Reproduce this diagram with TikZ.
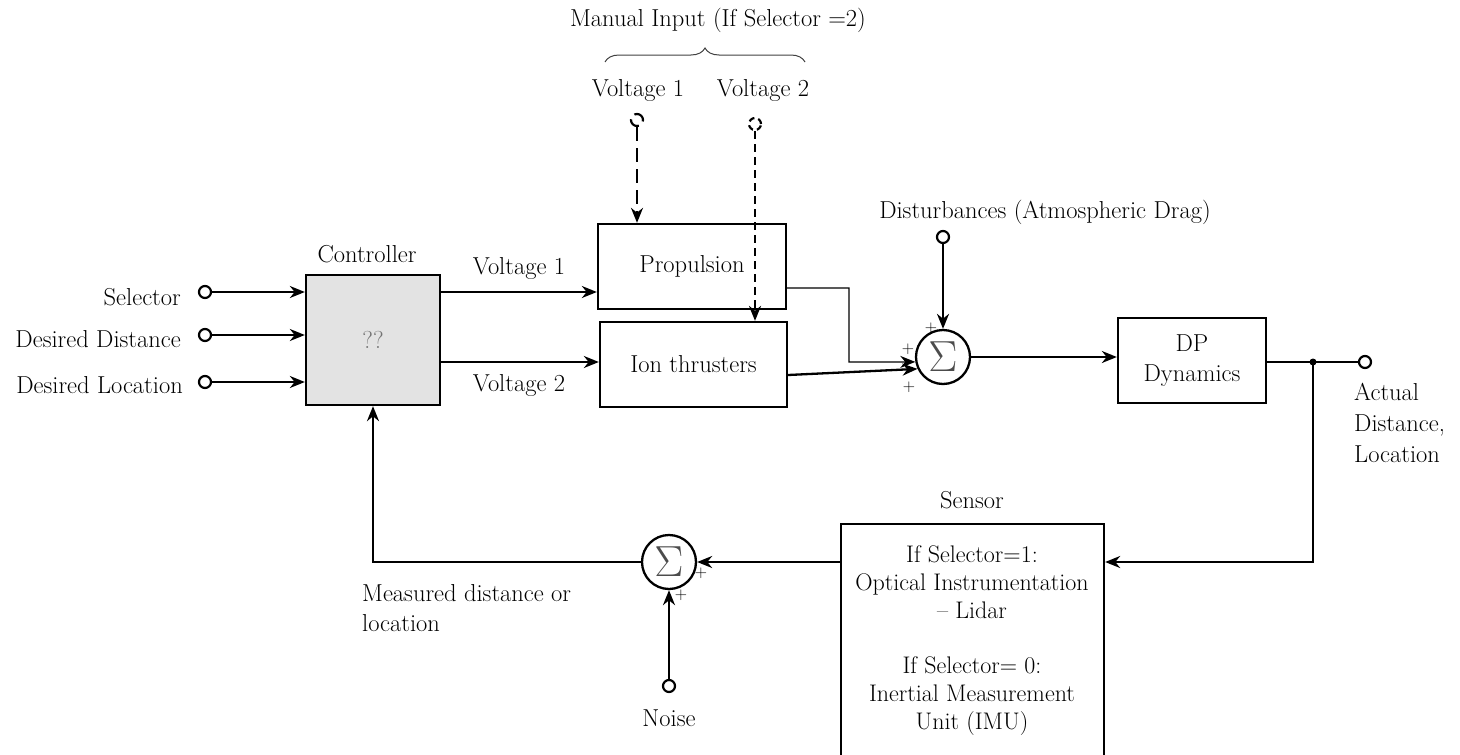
\documentclass[tikz,border=0pt]{standalone}
\usetikzlibrary{arrows.meta,decorations.pathreplacing}
\begin{document}
\begin{tikzpicture}[x=1pt,y=-1pt,
  every node/.style={font=\fontsize{24.5}{30}\selectfont, inner sep=0pt},
  blk/.style={draw, line width=2.3pt, rectangle},
  term/.style={draw, circle, fill=white, line width=2.2pt, minimum size=12pt},
  sumnode/.style={draw, circle, line width=2.3pt, minimum size=54pt},
  arr/.style={line width=2.3pt, -{Stealth[length=15pt,width=12pt]}},
  tarr/.style={line width=1.3pt, -{Stealth[length=15pt,width=12pt]}},
  pl/.style={font=\fontsize{17}{17}\selectfont},
  lbl/.style={}]
\clip (0,0) rectangle (1460,755);
% blocks
\node[blk, fill=black!11, minimum width=134pt, minimum height=130pt] (ctrl) at (373,340) {\textcolor{black!55}{??}};
\node[lbl] (ctrllbl) at (367,254) {Controller};
\node[blk, minimum width=188pt, minimum height=85pt] (prop) at (692,266.5) {Propulsion};
\node[blk, minimum width=187pt, minimum height=85pt] (ion) at (693.5,364.5) {Ion thrusters};
\node[blk, minimum width=148pt, minimum height=85pt, align=center] (dp) at (1192,360.5) {DP\\Dynamics};
\node[blk, minimum width=263pt, minimum height=260pt, anchor=north] (sens) at (972.5,523) {};
\node[lbl] (senslbl) at (972,500) {Sensor};
\node[lbl, align=center, anchor=north, font=\fontsize{24}{28}\selectfont] (senstxt) at (972,545) {If Selector=1:\\Optical Instrumentation\\-- Lidar\\[27pt]If Selector= 0:\\Inertial Measurement\\Unit (IMU)};
% sums
\node[sumnode] (sum1) at (943,357) {\textcolor{black!70}{\scalebox{1.75}{$\Sigma$}}};
\node[sumnode] (sum2) at (669,562) {\textcolor{black!70}{\scalebox{1.75}{$\Sigma$}}};
% terminals
\node[term] (tsel) at (205,292) {};
\node[term] (tdd) at (205,335) {};
\node[term] (tdl) at (205,382) {};
\node[term, dash pattern=on 12pt off 6pt] (tv1) at (637,120) {};
\node[term, dash pattern=on 6pt off 4pt] (tv2) at (755,124) {};
\node[term] (tdist) at (943,237) {};
\node[term] (tout) at (1365,362) {};
\node[term] (tnoise) at (669,686) {};
\coordinate (jn) at (1313,362);
\fill (jn) circle (3.5pt);
% input labels
\node[lbl, anchor=east] (lsel) at (181,297) {Selector};
\node[lbl, anchor=east] (ldd) at (181,339) {Desired Distance};
\node[lbl, anchor=east] (ldl) at (183,385) {Desired Location};
\node[lbl] (lv1) at (519,268) {Voltage 1};
\node[lbl] (lv2) at (519,385) {Voltage 2};
\node[lbl] (lman) at (718,20) {Manual Input (If Selector =2)};
\node[lbl] (lmv1) at (638,90) {Voltage 1};
\node[lbl] (lmv2) at (763,90) {Voltage 2};
\node[lbl] (ldist) at (1045,212) {Disturbances (Atmospheric Drag)};
\node[lbl, align=left, anchor=north west, font=\fontsize{24.5}{31}\selectfont] (lout) at (1354,383) {Actual\\Distance,\\Location};
\node[lbl, align=left, anchor=north west] (lmeas) at (362,584) {Measured distance or\\location};
\node[lbl] (lnoise) at (669,718) {Noise};
% plus signs
\node[pl] (p1) at (931,328) {+};
\node[pl] (p2) at (908,349) {+};
\node[pl] (p3) at (909,387) {+};
\node[pl] (p4) at (701,573) {+};
\node[pl] (p5) at (681,595) {+};
% brace
\draw[line width=1pt, black!75, decorate, decoration={brace, amplitude=14pt}] (605,62) -- (805,62);
% connectors
\draw[arr] (tsel) -- (ctrl.west |- tsel);
\draw[arr] (tdd) -- (ctrl.west |- tdd);
\draw[arr] (tdl) -- (ctrl.west |- tdl);
\draw[arr] (ctrl.east |- 0,292) -- (prop.west |- 0,292);
\draw[arr] (ctrl.east |- 0,362) -- (ion.west |- 0,362);
\draw[arr, dash pattern=on 14pt off 7pt] (tv1) -- (tv1 |- prop.north);
\draw[arr, dash pattern=on 8pt off 5pt] (tv2) -- (tv2 |- ion.north);
\draw[tarr] ([yshift=-21.5pt]prop.east) -- (849,288) -- (849,362) -- (sum1.190);
\draw[arr] ([yshift=-10.5pt]ion.east) -- (sum1.205);
\draw[arr] (tdist) -- (sum1.north);
\draw[arr] (sum1.east) -- (dp.west |- sum1.east);
\draw[line width=2.3pt] (dp.east |- tout) -- (tout);
\draw[arr] (jn) |- (sens.east |- sum2);
\draw[arr] (sens.west |- sum2) -- (sum2.east);
\draw[arr] (tnoise) -- (sum2.south);
\draw[arr] (sum2.west) -| (ctrl.south);
\end{tikzpicture}
\end{document}
